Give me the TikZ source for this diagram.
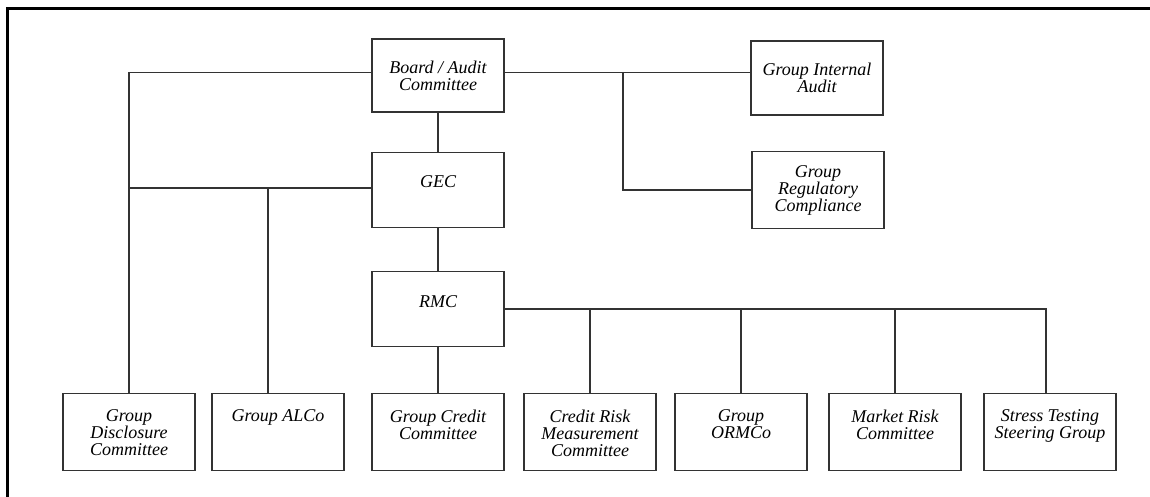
\documentclass[tikz,border=0pt]{standalone}
\usepackage{fontspec}
\setmainfont{Liberation Serif}
\usepackage{tikz}
\usetikzlibrary{positioning}

\newcommand{\toplines}[1]{\parbox[c][44pt][t]{128pt}{\centering #1}}

\begin{document}
\begin{tikzpicture}[x=1pt, y=-1pt,
  unit/.style={draw=black!80, line width=1.8pt, fill=white, align=center,
    minimum width=132pt, minimum height=75pt, inner sep=2pt,
    font=\itshape\fontsize{18}{17}\selectfont},
  oneline/.style={unit, text height=13pt, text depth=17pt},
  bottomunit/.style={unit, minimum height=77pt},
  link/.style={draw=black!80, line width=1.4pt}]
  \useasboundingbox (0,0) rectangle (1150,497);

  % ── frame ──
  \draw[line width=3pt] (7,500) -- (7,9) -- (1155,9);

  % ── top column ──
  \node[unit, minimum height=73pt] (board) at (438,75.5) {Board / Audit\\Committee};
  \node[oneline] (gec) at (438,190) {GEC};
  \node[oneline] (rmc) at (438,309) {RMC};

  % ── right of board ──
  \node[unit, minimum height=74pt] (gia) at (817,78) {Group Internal\\Audit};
  \node[unit, minimum height=77pt] (grc) at (818,190) {Group\\Regulatory\\Compliance};

  % ── bottom row ──
  \node[bottomunit] (disc)  at (129,432)  {\toplines{Group\\Disclosure\\Committee}};
  \node[bottomunit] (alco)  at (278,432)  {\toplines{Group ALCo}};
  \node[bottomunit] (gcc)   at (438,432)  {\toplines{Group Credit\\Committee}};
  \node[bottomunit] (crm)   at (590,432)  {\toplines{Credit Risk\\Measurement\\Committee}};
  \node[bottomunit] (ormco) at (741,432)  {\toplines{Group\\ORMCo}};
  \node[bottomunit] (mrc)   at (895,432)  {\toplines{Market Risk\\Committee}};
  \node[bottomunit] (stg)   at (1050,432) {\toplines{Stress Testing\\Steering Group}};

  % ── connectors ──
  \coordinate (branch) at (623,72);
  \draw[link] (board.south) -- (gec.north);
  \draw[link] (gec.south) -- (rmc.north);
  \draw[link] (rmc.south) -- (gcc.north);
  \draw[link] ([yshift=3pt]board.west) -| (disc.north);
  \draw[link] ([yshift=2pt]gec.west) -- ([yshift=2pt]gec.west -| disc.north);
  \draw[link] ([xshift=-10pt]alco.north) -- ([xshift=-10pt,yshift=2pt]alco.north |- gec.west);
  \draw[link] ([yshift=3pt]board.east) -- ([yshift=3pt]board.east -| gia.west);
  \draw[link] (branch) |- (grc.west);
  \draw[link] (rmc.east) -| ([xshift=-4pt]stg.north);
  \foreach \sub in {crm, ormco, mrc}
    \draw[link] (\sub.north) -- (\sub.north |- rmc.east);
\end{tikzpicture}
\end{document}
